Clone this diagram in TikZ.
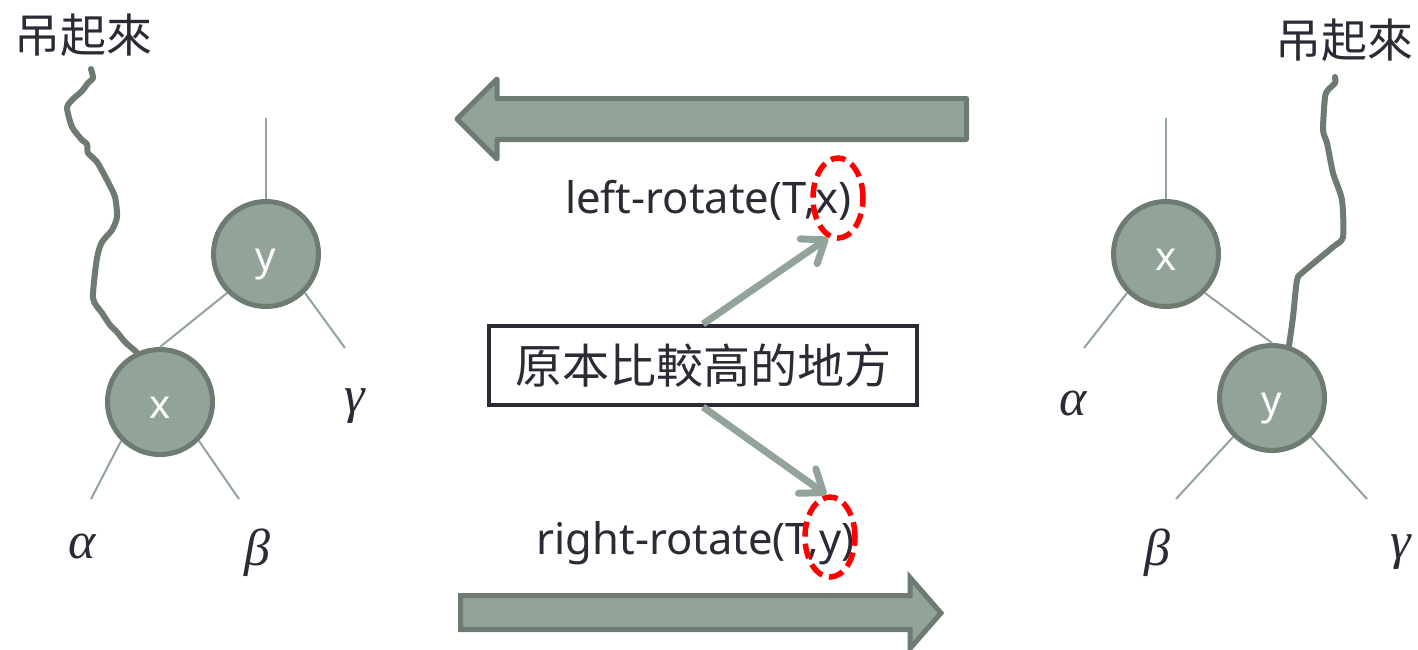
\documentclass[tikz,border=0pt]{standalone}
\usepackage{fontspec}
\setmainfont{Noto Sans}
\newfontfamily\cjk{Noto Sans CJK TC}
\newfontfamily\greekfam{Liberation Serif}
\usetikzlibrary{shapes.geometric,arrows.meta}
\definecolor{sage}{HTML}{92A399}
\definecolor{sagedark}{HTML}{6E7B70}
\definecolor{inkc}{HTML}{2B2A35}
\begin{document}
\begin{tikzpicture}[x=1pt,y=-1pt,
  treenode/.style={circle, fill=sage, draw=sagedark, line width=5pt, minimum size=105pt, inner sep=0pt,
    text=white, font=\fontsize{40}{48}\selectfont, text height=32pt, text depth=0pt},
  edgeline/.style={draw=sage, line width=2pt},
  rope/.style={draw=sagedark, line width=6pt, line cap=round, line join=round},
  greeklbl/.style={font=\fontsize{52}{60}\selectfont\greekfam\itshape, text=inkc, anchor=base, inner sep=0pt},
  cjklbl/.style={font=\fontsize{46}{54}\selectfont\cjk, text=inkc, anchor=base, inner sep=0pt},
  callname/.style={font=\fontsize{43.5}{50}\selectfont, text=inkc, anchor=base, inner sep=0pt},
  redring/.style={ellipse, draw=red, dash pattern=on 15pt off 7pt, line width=5.5pt,
    minimum width=50pt, minimum height=80pt, inner sep=0pt},
  pointer/.style={draw=sage, line width=7pt, -{Straight Barb[length=20pt,width=30pt,round]}},
  blockarrow/.style={fill=sage, draw=sagedark, line width=5pt},
  notebox/.style={draw=inkc, fill=white, line width=4pt, minimum width=428pt, minimum height=79pt,
    inner sep=0pt, font=\fontsize{47}{56}\selectfont\cjk, text=inkc, text height=41pt, text depth=6pt}
]
\useasboundingbox (0,0) rectangle (1418,649);

% ---------- block arrows ----------
\draw[blockarrow, line join=round] (457,119) -- (497,79) -- (497,98.5) -- (966.5,98.5) -- (966.5,139.5)
  -- (497,139.5) -- (497,159) -- cycle;
\draw[blockarrow, line join=miter] (460.5,595.5) -- (910,595.5) -- (910,577.5) -- (941,613) -- (910,648.5)
  -- (910,629.5) -- (460.5,629.5) -- cycle;

% ---------- left tree ----------
\node[treenode] (yL) at (266,254) {y};
\node[treenode] (xL) at (160,402) {x};
\coordinate (topL) at (266,118);
\coordinate (gL) at (345,348);
\coordinate (aL) at (91,499);
\coordinate (bL) at (239,499);
\draw[edgeline] (topL) -- (yL.north);
\draw[edgeline] (yL.225) -- (xL.north);
\draw[edgeline] (yL.-45) -- (gL);
\draw[edgeline] (xL.225) -- (aL);
\draw[edgeline] (xL.-45) -- (bL);
\node[greeklbl] (alphaL) at (82,558) {α};
\node[greeklbl] (betaL) at (257,565) {β};
\node[greeklbl] (gammaL) at (355,412) {γ};
\node[cjklbl] (hangL) at (83.5,52) {吊起來};
\draw[rope] plot[smooth, tension=0.4] coordinates {(91,69) (93,78) (88,83) (82,91) (72,100) (67,108) (72,127)
  (82,140) (87,144) (88,153) (97,162) (107,180) (115,197) (117,217) (112,230) (102,242) (97,258) (93,298)
  (102,313) (110,325) (117,332) (125,342) (xL.115)};

% ---------- right tree ----------
\node[treenode] (xR) at (1166,254) {x};
\node[treenode] (yR) at (1272,398) {y};
\coordinate (topR) at (1166,118);
\coordinate (aR) at (1084,348);
\coordinate (bR) at (1176,499);
\coordinate (gR) at (1367,499);
\draw[edgeline] (topR) -- (xR.north);
\draw[edgeline] (xR.-45) -- (yR.north);
\draw[edgeline] (xR.225) -- (aR);
\draw[edgeline] (yR.225) -- (bR);
\draw[edgeline] (yR.-45) -- (gR);
\node[greeklbl] (alphaR) at (1073,415) {α};
\node[greeklbl] (betaR) at (1157,565) {β};
\node[greeklbl] (gammaR) at (1401,558) {γ};
\node[cjklbl] (hangR) at (1344,57) {吊起來};
\draw[rope] plot[smooth, tension=0.4] coordinates {(1335,77) (1335,83) (1328,90) (1325,97) (1323,130)
  (1327,143) (1333,173) (1342,200) (1343,237) (1333,247) (1303,272) (1297,280) (1293,317) (yR.72)};

% ---------- middle ----------
\node[callname] (lrot) at (708.5,213) {left-rotate(T,x)};
\node[callname] (rrot) at (695.5,554) {right-rotate(T,y)};
\node[redring] (e1) at (838,198) {};
\node[redring] (e2) at (830,537) {};
\node[notebox] (box) at (703,365.5) {原本比較高的地方};
\draw[pointer] (box.north) -- (e1.256);
\draw[pointer] (box.south) -- (e2.95);
\end{tikzpicture}
\end{document}
